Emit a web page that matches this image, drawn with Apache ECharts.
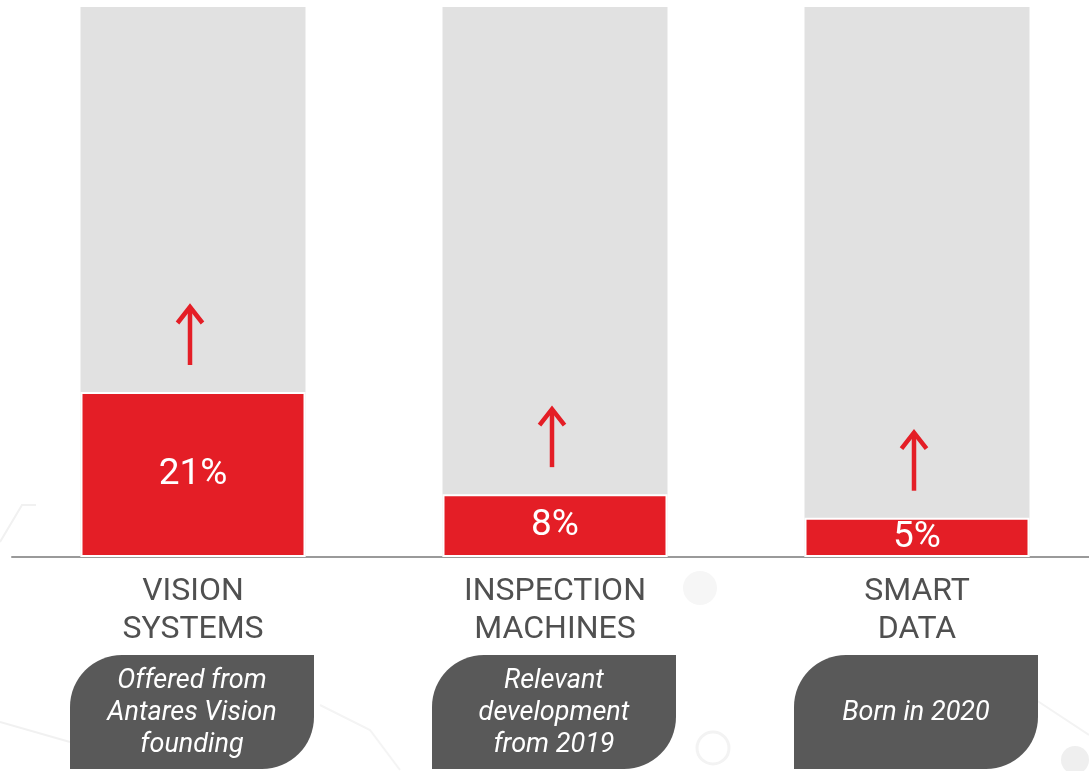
<!DOCTYPE html>
<html>
<head>
<meta charset="utf-8">
<script src="https://cdn.jsdelivr.net/npm/echarts@6/dist/echarts.min.js"></script>
<style>
  html, body { margin: 0; padding: 0; background: #ffffff; }
  #chart { width: 1089px; height: 771px; }
</style>
</head>
<body>
<div id="chart"></div>
<script>
// Business lines and their share (%)
const categories = ['VISION\nSYSTEMS', 'INSPECTION\nMACHINES', 'SMART\nDATA'];
const shares = [21, 8, 5];
const valueLabels = ['21%', '8%', '5%'];
const notes = [
  'Offered from\nAntares Vision\nfounding',
  'Relevant\ndevelopment\nfrom 2019',
  'Born in 2020'
];
const axisMax = 70;

const RED = '#e41e26';
const FONT = 'Roboto, "Noto Sans", sans-serif';

// categories sit at integer positions 0,1,2 on the horizontal axis;
// the axis runs past the right edge of the canvas, so its visible span is a bit under 3 slots
const GRID_LEFT = 12;
const GRID_WIDTH = 1077;
const SLOT = 362;
const xMin = -0.5;
const xMax = xMin + GRID_WIDTH / SLOT;

const chart = echarts.init(document.getElementById('chart'), null, { renderer: 'canvas' });

chart.setOption({
  backgroundColor: '#ffffff',
  animation: false,
  graphic: [
    // faint network decoration in the lower background
    { type: 'polyline', silent: true, z: -10,
      shape: { points: [[0, 542], [22, 505], [36, 505]] },
      style: { stroke: '#f1f1f1', lineWidth: 2, fill: null } },
    { type: 'polyline', silent: true, z: -10,
      shape: { points: [[0, 722], [70, 742]] },
      style: { stroke: '#f1f1f1', lineWidth: 2, fill: null } },
    { type: 'polyline', silent: true, z: -10,
      shape: { points: [[320, 705], [370, 730], [400, 770]] },
      style: { stroke: '#f4f4f4', lineWidth: 2, fill: null } },
    { type: 'circle', silent: true, z: -10,
      shape: { cx: 700, cy: 588, r: 17 },
      style: { fill: '#f6f6f6' } },
    { type: 'circle', silent: true, z: -10,
      shape: { cx: 713, cy: 748, r: 16 },
      style: { fill: null, stroke: '#f3f3f3', lineWidth: 3 } },
    { type: 'circle', silent: true, z: -10,
      shape: { cx: 1075, cy: 760, r: 14 },
      style: { fill: '#efefef' } },
    { type: 'polyline', silent: true, z: -10,
      shape: { points: [[1036, 700], [1089, 735]] },
      style: { stroke: '#f3f3f3', lineWidth: 2, fill: null } }
  ],
  grid: { left: GRID_LEFT, width: GRID_WIDTH, top: 7, bottom: 214, containLabel: false },
  xAxis: {
    type: 'value',
    min: xMin,
    max: xMax,
    axisLine: { show: true, onZero: false, lineStyle: { color: '#9a9a9a', width: 2 } },
    axisTick: { show: false },
    splitLine: { show: false },
    axisLabel: {
      customValues: categories.map((c, i) => i),
      formatter: v => categories[Math.round(v)],
      margin: 16,
      color: '#505050',
      fontFamily: FONT,
      fontSize: 32,
      lineHeight: 38
    }
  },
  yAxis: {
    type: 'value',
    min: 0,
    max: axisMax,
    show: false,
    splitLine: { show: false }
  },
  series: [
    {
      type: 'bar',
      data: shares.map((v, i) => [i, v]),
      barWidth: 225,
      showBackground: true,
      backgroundStyle: { color: '#e1e1e1' },
      itemStyle: { color: RED, borderColor: '#ffffff', borderWidth: 2 },
      label: {
        show: true,
        position: 'inside',
        color: '#ffffff',
        fontFamily: FONT,
        fontSize: 37,
        formatter: p => valueLabels[p.dataIndex]
      },
      z: 2
    },
    {
      // upward arrows above each bar
      type: 'custom',
      data: shares.map((v, i) => [i, v]),
      clip: false,
      z: 5,
      renderItem: function (params, api) {
        const p = api.coord([api.value(0), api.value(1)]);
        const cx = p[0] - 3;
        const bottom = p[1] - 27;
        const tip = bottom - 61;
        const style = { stroke: RED, lineWidth: 4.5, fill: null, lineJoin: 'miter', lineCap: 'butt' };
        return {
          type: 'group',
          children: [
            { type: 'line', shape: { x1: cx, y1: bottom, x2: cx, y2: tip + 3 }, style: style },
            { type: 'polyline', shape: { points: [[cx - 12.5, tip + 19], [cx, tip + 3], [cx + 12.5, tip + 19]] }, style: style }
          ]
        };
      }
    },
    {
      // description tags under each category
      type: 'custom',
      data: shares.map((v, i) => [i, 0]),
      clip: false,
      z: 5,
      renderItem: function (params, api) {
        const i = api.value(0);
        const p = api.coord([i, 0]);
        const w = 244, h = 114;
        const x = p[0] - 123;
        const y = p[1] + 98;
        return {
          type: 'group',
          children: [
            { type: 'rect', shape: { x: x, y: y, width: w, height: h, r: [52, 0, 52, 0] },
              style: { fill: '#595959' } },
            { type: 'text',
              style: {
                text: notes[i],
                x: x + w / 2,
                y: y + h / 2 + 1,
                align: 'center',
                verticalAlign: 'middle',
                fill: '#ffffff',
                fontFamily: FONT,
                fontStyle: 'italic',
                fontSize: 27,
                lineHeight: 32
              } }
          ]
        };
      }
    }
  ]
});
</script>
</body>
</html>
